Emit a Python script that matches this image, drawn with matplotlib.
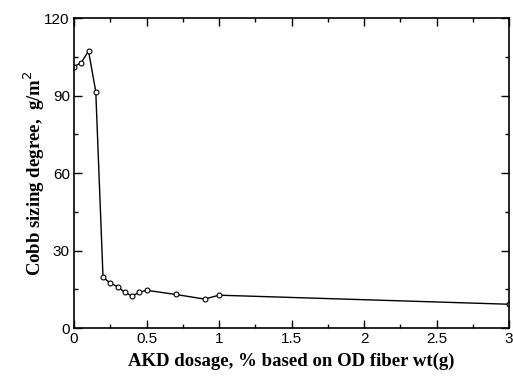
import matplotlib
matplotlib.use("Agg")
import matplotlib.pyplot as plt
from matplotlib.ticker import MultipleLocator

# AKD dosage (%) and Cobb sizing degree (g/m^2)
dosage = [0, 0.05, 0.1, 0.15, 0.2, 0.25, 0.3, 0.35, 0.4, 0.45, 0.5, 0.7, 0.9, 1.0, 3.0]
cobb = [101.2, 102.7, 107.2, 91.5, 19.6, 17.4, 16.0, 13.8, 12.4, 13.8, 14.6, 13.0, 11.2, 12.7, 9.2]

x_ticks = [0, 0.5, 1, 1.5, 2, 2.5, 3]
x_tick_labels = ["0", "0.5", "1", "1.5", "2", "2.5", "3"]
y_ticks = [0, 30, 60, 90, 120]

fig = plt.figure(figsize=(5.13, 3.83), dpi=100)
ax = fig.add_axes([0.1443, 0.1436, 0.848, 0.8094])

ax.plot(dosage, cobb, color="black", linewidth=1.0, marker="o", markersize=3.5,
        markerfacecolor="white", markeredgecolor="black", markeredgewidth=0.8)

ax.set_xlim(0, 3)
ax.set_ylim(0, 120)
ax.set_xticks(x_ticks)
ax.set_xticklabels(x_tick_labels)
ax.set_yticks(y_ticks)
ax.xaxis.set_minor_locator(MultipleLocator(0.25))
ax.yaxis.set_minor_locator(MultipleLocator(15))
ax.tick_params(which="both", direction="in", top=True, right=True, width=1.0)
ax.tick_params(which="major", length=6, labelsize=11, pad=3)
ax.tick_params(which="minor", length=3)
for lab in ax.get_xticklabels() + ax.get_yticklabels():
    lab.set_family(["Liberation Sans Narrow", "Liberation Sans", "DejaVu Sans"])
for sp in ax.spines.values():
    sp.set_linewidth(1.2)

ax.set_xlabel("AKD dosage, % based on OD fiber wt(g)", fontsize=13.5, fontweight="bold",
              family="Liberation Serif", labelpad=5)
ax.set_ylabel("Cobb sizing degree,  g/m$^2$", fontsize=13.5, fontweight="bold",
              family="Liberation Serif", labelpad=-2)

fig.savefig("out.png", dpi=100)
